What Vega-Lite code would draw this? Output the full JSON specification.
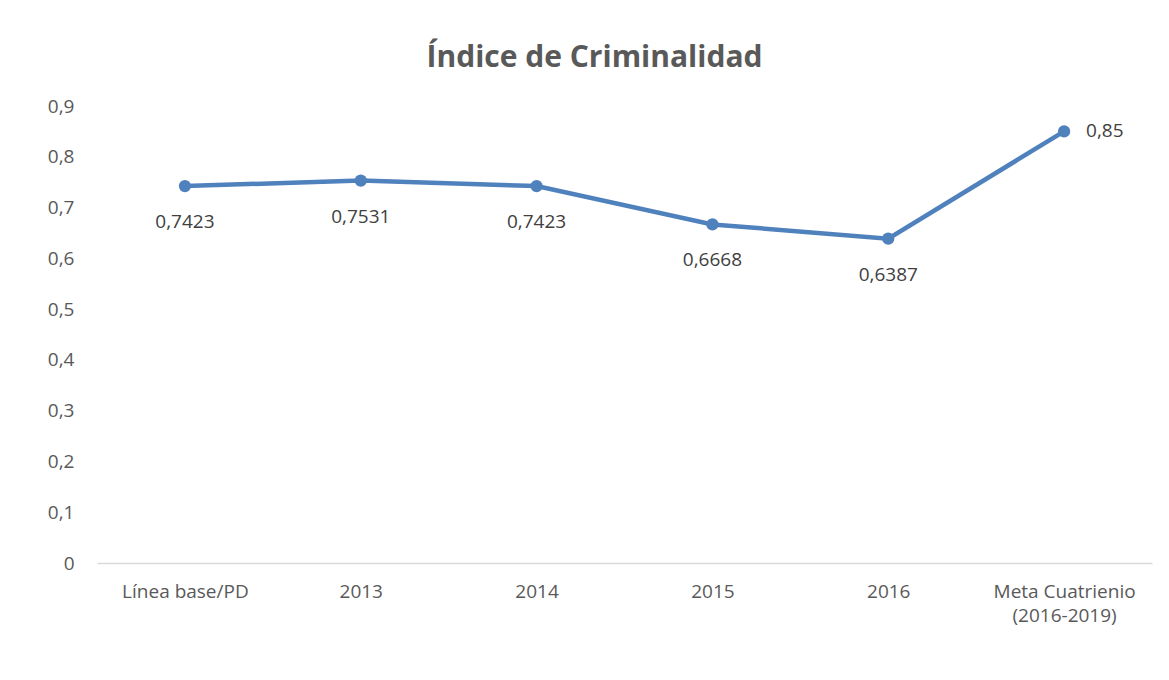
{
  "$schema": "https://vega.github.io/schema/vega-lite/v6.json",
  "autosize": {"type": "none"},
  "width": 1055,
  "height": 457,
  "padding": {"left": 97, "top": 106, "right": 17, "bottom": 117},
  "background": "white",
  "config": {
    "view": {"stroke": null},
    "font": "Open Sans",
    "locale": {"number": {"decimal": ",", "thousands": ".", "grouping": [3], "currency": ["", ""]}}
  },
  "title": {
    "text": "Índice de Criminalidad",
    "fontSize": 30,
    "fontWeight": "bold",
    "color": "#595959",
    "font": "Open Sans",
    "anchor": "middle",
    "dx": -30,
    "offset": 24
  },
  "data": {
    "values": [
      {"cat": "Línea base/PD", "valor": 0.7423},
      {"cat": "2013", "valor": 0.7531},
      {"cat": "2014", "valor": 0.7423},
      {"cat": "2015", "valor": 0.6668},
      {"cat": "2016", "valor": 0.6387},
      {"cat": "Meta Cuatrienio (2016-2019)", "valor": 0.85}
    ]
  },
  "encoding": {
    "x": {
      "field": "cat",
      "type": "nominal",
      "sort": null,
      "scale": {"type": "point", "padding": 0.5},
      "axis": {
        "title": null,
        "labelAngle": 0,
        "ticks": false,
        "domainColor": "#d9d9d9",
        "domainWidth": 1.5,
        "labelColor": "#595959",
        "labelFontSize": 19,
        "labelPadding": 19,
        "labelLineHeight": 24,
        "labelExpr": "datum.value == 'Meta Cuatrienio (2016-2019)' ? ['Meta Cuatrienio', '(2016-2019)'] : datum.value"
      }
    },
    "y": {
      "field": "valor",
      "type": "quantitative",
      "scale": {"domain": [0, 0.9], "nice": false},
      "axis": {
        "title": null,
        "values": [0, 0.1, 0.2, 0.3, 0.4, 0.5, 0.6, 0.7, 0.8, 0.9],
        "format": ".1~f",
        "grid": false,
        "domain": false,
        "ticks": false,
        "labelColor": "#595959",
        "labelFontSize": 19,
        "labelPadding": 23
      }
    }
  },
  "layer": [
    {
      "mark": {"type": "line", "color": "#4F81BD", "strokeWidth": 4.5},
      "encoding": {}
    },
    {
      "mark": {"type": "point", "filled": true, "opacity": 1, "size": 150, "color": "#4F81BD"},
      "encoding": {}
    },
    {
      "transform": [{"filter": "datum.valor < 0.8"}],
      "mark": {"type": "text", "dy": 36, "fontSize": 19, "color": "#404040"},
      "encoding": {"text": {"field": "valor", "type": "quantitative", "format": ".4~f"}}
    },
    {
      "transform": [{"filter": "datum.valor >= 0.8"}],
      "mark": {"type": "text", "dx": 22, "align": "left", "fontSize": 19, "color": "#404040"},
      "encoding": {"text": {"field": "valor", "type": "quantitative", "format": ".4~f"}}
    }
  ]
}
